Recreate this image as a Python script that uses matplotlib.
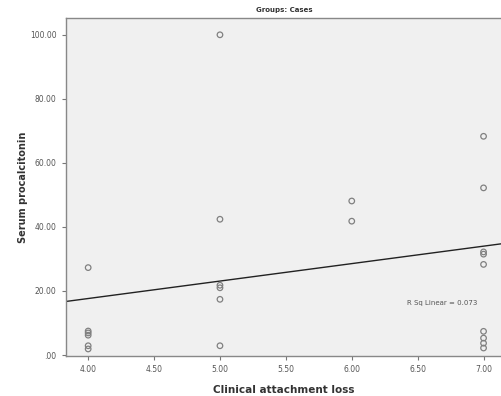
import matplotlib
matplotlib.use("Agg")
import matplotlib.pyplot as plt

# values
cal_4 = [27.3, 7.5, 6.9, 6.2, 2.9, 1.9]
cal_5 = [100.0, 42.4, 21.8, 21.0, 17.4, 2.9]
cal_6 = [48.1, 41.8]
cal_7 = [68.3, 52.2, 32.2, 31.5, 28.3, 7.4, 5.3, 3.7, 2.2]

x_vals = [4.0] * len(cal_4) + [5.0] * len(cal_5) + [6.0] * len(cal_6) + [7.0] * len(cal_7)
y_vals = cal_4 + cal_5 + cal_6 + cal_7

# fit line as drawn in the picture
fit_slope = 5.45
fit_intercept = -4.15
r_sq = 0.073

x_ticks = [4.0, 4.5, 5.0, 5.5, 6.0, 6.5, 7.0]
y_ticks = [0, 20, 40, 60, 80, 100]

fig = plt.figure(figsize=(5.02, 3.96), dpi=100)
ax = fig.add_axes([0.131, 0.101, 0.869, 0.854])
ax.set_facecolor('#f0f0f0')

ax.scatter(x_vals, y_vals, s=16, facecolors='none', edgecolors='#808080', linewidths=0.9, zorder=3)

xl = (3.83, 7.14)
ax.plot(xl, [fit_intercept + fit_slope * v for v in xl], color='#222222', lw=1.0, zorder=2)

ax.text(6.42, 16.2, 'R Sq Linear = %.3f' % r_sq, fontsize=5, color='#555555', va='center')

ax.set_xlim(*xl)
ax.set_ylim(-0.3, 105.3)
ax.set_xticks(x_ticks)
ax.set_xticklabels(['%.2f' % v for v in x_ticks])
ax.set_yticks(y_ticks)
ax.set_yticklabels(['.00' if v == 0 else '%.2f' % v for v in y_ticks])
ax.tick_params(labelsize=5.5, labelcolor='#555555', color='#777777', length=3, width=0.8)

for s in ['left', 'bottom', 'top']:
    ax.spines[s].set_color('#888888')
    ax.spines[s].set_linewidth(1.0)
ax.spines['right'].set_visible(False)

ax.set_title('Groups: Cases', fontsize=5, fontweight='bold', color='#333333', pad=4)
ax.set_xlabel('Clinical attachment loss', fontsize=7.5, fontweight='bold', color='#333333', labelpad=8)
ax.set_ylabel('Serum procalcitonin', fontsize=7, fontweight='bold', color='#333333', labelpad=1.5)

fig.savefig('out.png', dpi=100)
